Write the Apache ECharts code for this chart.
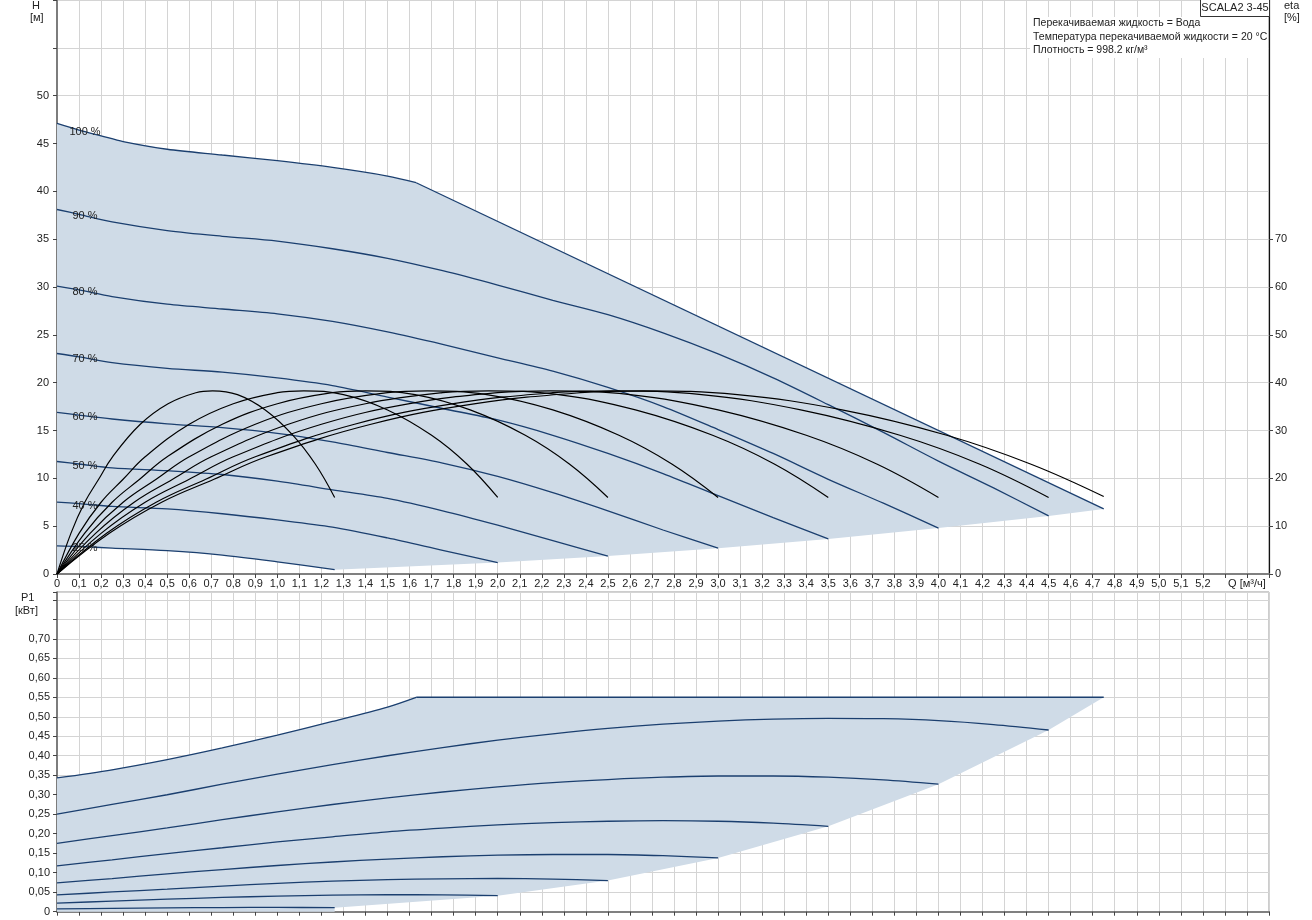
<!DOCTYPE html>
<html>
<head>
<meta charset="utf-8">
<script src="https://cdn.jsdelivr.net/npm/echarts@6/dist/echarts.min.js"></script>
<style>
html,body{margin:0;padding:0;background:#fff;}
#chart{width:1312px;height:920px;}
</style>
</head>
<body>
<div id="chart"></div>
<script>
// ---------- DATA ----------
const speedNames = ['100 %','90 %','80 %','70 %','60 %','50 %','40 %','25 %'];

// H [m] vs Q [m3/h]
const H100 = [[0,47.1],[0.1,46.4],[0.2,45.8],[0.3,45.2],[0.5,44.4],[0.75,43.8],[1.0,43.2],[1.25,42.5],[1.5,41.6],[1.63,40.9],[4.75,6.8]];
const H90  = [[0,38.1],[0.1,37.6],[0.25,36.8],[0.5,35.9],[0.75,35.3],[1.0,34.8],[1.25,34.0],[1.5,33.0],[1.75,31.7],[2.0,30.2],[2.25,28.6],[2.5,27.1],[2.75,25.2],[3.0,23.0],[3.25,20.5],[3.5,17.7],[3.75,14.8],[4.0,11.8],[4.25,9.0],[4.5,6.07]];
const H80  = [[0,30.1],[0.1,29.7],[0.25,29.0],[0.5,28.2],[0.75,27.7],[1.0,27.2],[1.25,26.4],[1.5,25.3],[1.75,24.0],[2.0,22.6],[2.25,21.2],[2.5,19.5],[2.75,17.5],[3.0,15.1],[3.25,12.6],[3.5,9.9],[3.75,7.4],[4.0,4.8]];
const H70  = [[0,23.05],[0.1,22.7],[0.25,22.1],[0.5,21.5],[0.75,21.1],[1.0,20.5],[1.25,19.7],[1.5,18.5],[1.75,17.3],[2.0,16.1],[2.25,14.5],[2.5,12.6],[2.75,10.5],[3.0,8.2],[3.25,5.9],[3.5,3.67]];
const H60  = [[0,16.9],[0.1,16.6],[0.25,16.2],[0.5,15.7],[0.75,15.3],[1.0,14.7],[1.25,13.8],[1.5,12.7],[1.75,11.6],[2.0,10.2],[2.25,8.5],[2.5,6.6],[2.75,4.6],[3.0,2.7]];
const H50  = [[0,11.76],[0.1,11.5],[0.25,11.1],[0.5,10.8],[0.75,10.4],[1.0,9.7],[1.25,8.8],[1.5,7.9],[1.75,6.6],[2.0,5.1],[2.25,3.5],[2.5,1.87]];
const H40  = [[0,7.52],[0.1,7.35],[0.25,7.06],[0.5,6.8],[0.75,6.3],[1.0,5.65],[1.25,4.9],[1.5,3.77],[1.75,2.48],[2.0,1.2]];
const H25  = [[0,2.94],[0.1,2.88],[0.25,2.71],[0.5,2.44],[0.75,1.98],[1.0,1.27],[1.26,0.45]];
const speedCurves = [H100,H90,H80,H70,H60,H50,H40,H25];
const kneeQ = 1.63;

// eta [%] vs Q
const eta1 = [[0,0],[0.063,8.5],[0.126,15],[0.189,19.8],[0.252,24.5],[0.378,31.3],[0.504,35.6],[0.63,37.9],[0.706,38.3],[0.819,37.5],[0.945,34.3],[1.071,29],[1.172,23],[1.26,16]];
const eta2 = [[0,0],[0.1,8.5],[0.2,15],[0.3,19.8],[0.4,24.5],[0.6,31.3],[0.8,35.6],[1.0,37.9],[1.12,38.3],[1.3,37.5],[1.5,34.3],[1.7,29],[1.86,23],[2.0,16]];
const eta3 = [[0,0],[0.125,8.5],[0.25,15],[0.375,19.8],[0.5,24.5],[0.75,31.3],[1.0,35.6],[1.25,37.9],[1.4,38.3],[1.625,37.5],[1.875,34.3],[2.125,29],[2.325,23],[2.5,16]];
const eta4 = [[0,0],[0.15,8.5],[0.3,15],[0.45,19.8],[0.6,24.5],[0.9,31.3],[1.2,35.6],[1.5,37.9],[1.68,38.3],[1.95,37.5],[2.25,34.3],[2.55,29],[2.79,23],[3.0,16]];
const eta5 = [[0,0],[0.175,8.5],[0.35,15],[0.525,19.8],[0.7,24.5],[1.05,31.3],[1.4,35.6],[1.75,37.9],[1.96,38.3],[2.275,37.5],[2.625,34.3],[2.975,29],[3.255,23],[3.5,16]];
const eta6 = [[0,0],[0.2,8.5],[0.4,15],[0.6,19.8],[0.8,24.5],[1.2,31.3],[1.6,35.6],[2.0,37.9],[2.24,38.3],[2.6,37.5],[3.0,34.3],[3.4,29],[3.72,23],[4.0,16]];
const eta7 = [[0,0],[0.225,8.5],[0.45,15],[0.675,19.8],[0.9,24.5],[1.35,31.3],[1.8,35.6],[2.25,37.9],[2.52,38.3],[2.925,37.5],[3.375,34.3],[3.825,29],[4.185,23],[4.5,16]];
const eta8 = [[0,0],[0.2375,8.5],[0.475,15],[0.7125,19.8],[0.95,24.5],[1.425,31.3],[1.9,35.6],[2.375,37.9],[2.66,38.3],[3.0875,37.5],[3.5625,34.3],[4.0375,29],[4.4175,23],[4.75,16.2]];
const etaCurves = [eta1,eta2,eta3,eta4,eta5,eta6,eta7,eta8];

// P1 [kW] vs Q
const P100 = [[0,0.343],[0.25,0.364],[0.5,0.39],[0.75,0.42],[1.0,0.453],[1.25,0.488],[1.5,0.525],[1.63,0.55],[4.75,0.55]];
const P90  = [[0,0.25],[0.25,0.275],[0.5,0.30],[0.75,0.327],[1.0,0.353],[1.25,0.377],[1.5,0.40],[1.75,0.421],[2.0,0.44],[2.25,0.456],[2.5,0.47],[2.75,0.481],[3.0,0.489],[3.25,0.494],[3.5,0.496],[3.75,0.495],[4.0,0.49],[4.25,0.48],[4.5,0.466]];
const P80  = [[0,0.1755],[0.25,0.195],[0.5,0.215],[0.75,0.236],[1.0,0.256],[1.25,0.275],[1.5,0.292],[1.75,0.307],[2.0,0.32],[2.25,0.331],[2.5,0.339],[2.75,0.345],[3.0,0.348],[3.25,0.348],[3.5,0.345],[3.75,0.338],[4.0,0.327]];
const P70  = [[0,0.1176],[0.25,0.133],[0.5,0.149],[0.75,0.164],[1.0,0.179],[1.25,0.192],[1.5,0.205],[1.75,0.2145],[2.0,0.2225],[2.25,0.2285],[2.5,0.232],[2.75,0.2335],[3.0,0.232],[3.25,0.227],[3.5,0.219]];
const P60  = [[0,0.074],[0.25,0.085],[0.5,0.097],[0.75,0.108],[1.0,0.1185],[1.25,0.1275],[1.5,0.135],[1.75,0.141],[2.0,0.145],[2.25,0.1467],[2.5,0.1467],[2.75,0.1437],[3.0,0.138]];
const P50  = [[0,0.0429],[0.25,0.0506],[0.5,0.0578],[0.75,0.0657],[1.0,0.0729],[1.25,0.0782],[1.5,0.0821],[1.75,0.0844],[2.0,0.0851],[2.25,0.0837],[2.5,0.0799]];
const P40  = [[0,0.022],[0.25,0.027],[0.5,0.032],[0.75,0.0365],[1.0,0.040],[1.25,0.0424],[1.5,0.0435],[1.75,0.0431],[2.0,0.041]];
const P25  = [[0,0.007],[0.25,0.0085],[0.5,0.0098],[0.75,0.0107],[1.0,0.011],[1.26,0.0103]];
const powerCurves = [P100,P90,P80,P70,P60,P50,P40,P25];

// axis ticks / labels
const hLabels = [0,5,10,15,20,25,30,35,40,45,50];
const etaLabels = [0,10,20,30,40,50,60,70];
const pLabels = [0,0.05,0.1,0.15,0.2,0.25,0.3,0.35,0.4,0.45,0.5,0.55,0.6,0.65,0.7];
const qAxisName = 'Q [м³/ч]';
const infoLines = ['Перекачиваемая жидкость = Вода','Температура перекачиваемой жидкости = 20 °C','Плотность = 998.2 кг/м³'];
const modelName = 'SCALA2 3-45';

// ---------- STYLE ----------
const FONT = '"Liberation Sans", Arial, sans-serif';
const FILL = '#cfdbe7';
const BLUE = '#1b3f6f';
const GRID = '#d4d4d4';
const TXT = '#222';

// ---------- BUILD ----------
const endsH = speedCurves.map(c => c[c.length-1]).slice(1);   // 90% ... 25%
const polyTop = [[0,0]].concat(H100, endsH, H25.slice(0,-1).reverse().filter(p => p[0] > 0));
const endsP = powerCurves.map(c => c[c.length-1]).slice(1);
const polyBottom = [[0,0]].concat(P100, endsP, [[endsP[endsP.length-1][0], 0]]);

const fmtComma = (v, d) => v === 0 ? '0' : v.toFixed(d).replace('.', ',');

function splitAtKnee(c) {
  const k = c.findIndex(p => p[0] === kneeQ);
  return [c.slice(0, k + 1), c.slice(k)];
}

const series = [];
series.push({
  type:'custom', xAxisIndex:0, yAxisIndex:0, silent:true, z:1,
  data:[[0,0]],
  renderItem:(params, api) => ({type:'polygon', shape:{points: polyTop.map(p => api.coord(p))}, style:{fill:FILL}})
});
series.push({
  type:'custom', xAxisIndex:1, yAxisIndex:2, silent:true, z:1,
  data:[[0,0]],
  renderItem:(params, api) => ({type:'polygon', shape:{points: polyBottom.map(p => api.coord(p))}, style:{fill:FILL}})
});

function pushCurve(c, xi, yi, first) {
  const parts = first ? splitAtKnee(c) : [c];
  parts.forEach((d, j) => {
    series.push({type:'line', xAxisIndex:xi, yAxisIndex:yi, data:d, showSymbol:false, symbol:'none',
      smooth: (first && j === 1) ? false : 0.3, lineStyle:{color:BLUE, width:1.3}, z:3, silent:true});
  });
}
speedCurves.forEach((c, i) => pushCurve(c, 0, 0, i === 0));
powerCurves.forEach((c, i) => pushCurve(c, 1, 2, i === 0));

etaCurves.forEach(c => {
  series.push({type:'line', xAxisIndex:0, yAxisIndex:1, data:c, showSymbol:false, symbol:'none',
    smooth:0.4, lineStyle:{color:'#000', width:1.2}, z:4, silent:true});
});

// speed labels, anchored on each speed curve at Q = 0.1
const labelGraphics = [];

const xCommon = {
  type:'value', min:0, max:5.5, interval:0.1,
  splitLine:{show:true, lineStyle:{color:GRID, width:1}},
  axisLine:{show:true, onZero:false, lineStyle:{color:'#808080', width:2}},
  axisTick:{show:true, length:4, lineStyle:{color:'#444'}}
};

const staticGraphics = [
  {type:'text', left:32, top:0, style:{text:'H', font:'11px '+FONT, fill:TXT}},
  {type:'text', left:30, top:12, style:{text:'[м]', font:'11px '+FONT, fill:TXT}},
  {type:'text', left:21, top:592, style:{text:'P1', font:'11px '+FONT, fill:TXT}},
  {type:'text', left:15, top:605, style:{text:'[кВт]', font:'11px '+FONT, fill:TXT}},
  {type:'text', left:1284, top:0, style:{text:'eta', font:'11px '+FONT, fill:TXT}},
  {type:'text', left:1284, top:12, style:{text:'[%]', font:'11px '+FONT, fill:TXT}},
  {type:'rect', shape:{x:1030, y:17, width:238, height:41}, style:{fill:'#fff'}, z:10},
  {type:'rect', shape:{x:1200.5, y:-1, width:69, height:17.5}, style:{fill:'#fff', stroke:'#333', lineWidth:1}, z:10},
  {type:'text', x:1235, y:8, z:11, style:{text:modelName, font:'11px '+FONT, fill:TXT, align:'center', verticalAlign:'middle'}}
].concat(infoLines.map((t, i) => ({
  type:'text', x:1033, y:18 + i*13.5, z:11, style:{text:t, font:'10.5px '+FONT, fill:TXT}})));

const option = {
  animation:false,
  backgroundColor:'#fff',
  textStyle:{fontFamily:FONT},
  grid:[
    {left:57, right:43, top:0, height:574, show:true, borderColor:'#9a9a9a', borderWidth:1},
    {left:57, right:43, top:592, height:319.7, show:true, borderColor:'#9a9a9a', borderWidth:1}
  ],
  xAxis:[
    Object.assign({}, xCommon, {gridIndex:0,
      axisLabel:{show:true, margin:4, color:TXT, fontSize:11, fontFamily:FONT, interval:0,
        formatter:v => {
          if (v < 5.25) return fmtComma(v,1);
          if (Math.abs(v - 5.4) < 0.01) return qAxisName;
          return '';
        }}}),
    Object.assign({}, xCommon, {gridIndex:1, axisLabel:{show:false}})
  ],
  yAxis:[
    {type:'value', gridIndex:0, min:0, max:60, interval:5, position:'left',
      splitLine:{show:true, lineStyle:{color:GRID, width:1}},
      axisLine:{show:true, onZero:false, lineStyle:{color:'#606060', width:1.5}},
      axisTick:{show:true, length:4, lineStyle:{color:'#444'}},
      axisLabel:{show:true, customValues:hLabels, margin:8, color:TXT, fontSize:11, fontFamily:FONT,
        formatter:v => v > 50 ? '' : String(v)}},
    {type:'value', gridIndex:0, min:0, max:120, interval:10, position:'right',
      splitLine:{show:false},
      axisLine:{show:true, onZero:false, lineStyle:{color:'#111', width:1.2}},
      axisTick:{show:true, length:4, customValues:etaLabels, lineStyle:{color:'#444'}},
      axisLabel:{show:true, customValues:etaLabels, margin:6, color:TXT, fontSize:11, fontFamily:FONT,
        formatter:v => v > 70 ? '' : String(v)}},
    {type:'value', gridIndex:1, min:0, max:0.82, interval:0.05, position:'left',
      splitLine:{show:true, lineStyle:{color:GRID, width:1}},
      axisLine:{show:true, onZero:false, lineStyle:{color:'#606060', width:1.5}},
      axisTick:{show:true, length:4, lineStyle:{color:'#444'}},
      axisLabel:{show:true, customValues:pLabels, margin:7, color:TXT, fontSize:11, fontFamily:FONT,
        formatter:v => v > 0.705 ? '' : fmtComma(v,2)}}
  ],
  graphic: staticGraphics,
  series: series
};

const chart = echarts.init(document.getElementById('chart'), null, {renderer:'canvas'});
chart.setOption(option);

// place speed labels using the chart's own scale
const speedLabelGraphics = speedCurves.map((c, i) => {
  const p = c.find(q => q[0] === 0.1);
  const px = chart.convertToPixel({xAxisIndex:0, yAxisIndex:0}, p);
  return {type:'text', x:px[0] + 6, y:px[1] + 2, z:12,
    style:{text:speedNames[i], font:'11px '+FONT, fill:TXT, align:'center', verticalAlign:'middle'}};
});
chart.setOption({graphic: staticGraphics.concat(speedLabelGraphics)});
</script>
</body>
</html>
